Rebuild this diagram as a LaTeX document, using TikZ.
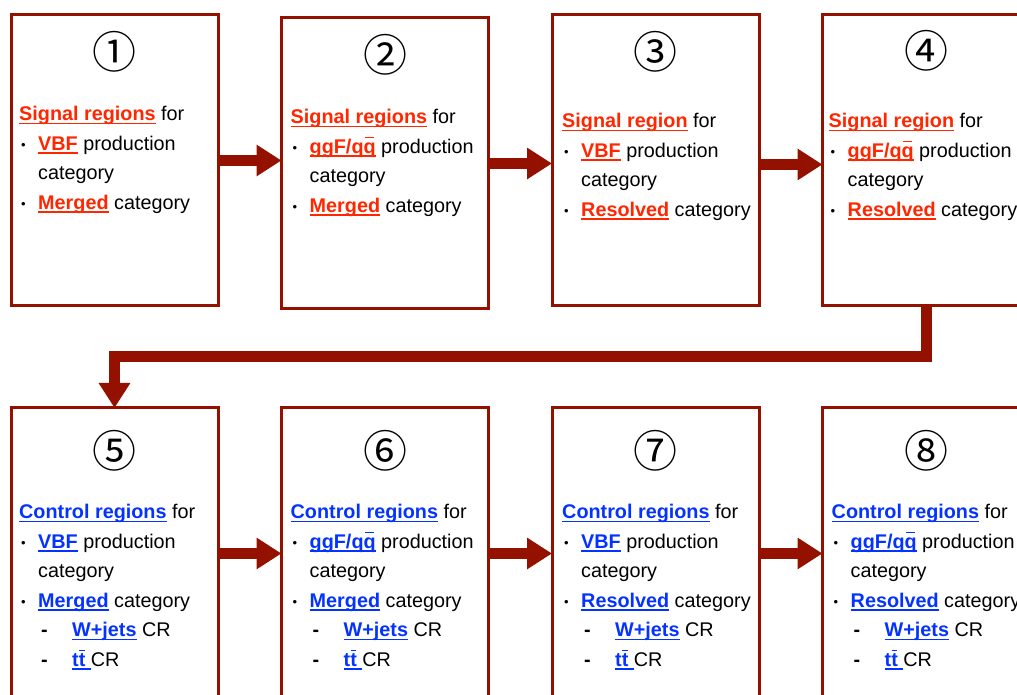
\documentclass[tikz,border=0pt]{standalone}
\usepackage{fontspec}
\setmainfont{Liberation Sans}
\newfontfamily\cjk{Noto Sans CJK SC}
\usepackage{xcolor}
\usetikzlibrary{arrows.meta,positioning}

\definecolor{boxred}{RGB}{148,17,0}
\definecolor{sigred}{RGB}{255,38,0}
\definecolor{ctlblue}{RGB}{4,51,255}

\newcommand\ulin[1]{\setbox0\hbox{#1}\rlap{\rule[-3.6pt]{\wd0}{1.5pt}}\box0}
\newcommand\ovbar[1]{\setbox0\hbox{#1}\rlap{\hbox to\wd0{\hss\rule[0.74em]{0.8\wd0}{1.5pt}\hss}}\box0}
\newcommand\sig[1]{{\color{sigred}\bfseries\ulin{#1}}}
\newcommand\ctl[1]{{\color{ctlblue}\bfseries\ulin{#1}}}
\newcommand\bul{\makebox[19pt][l]{\hspace{2pt}\raisebox{1pt}{\fontsize{13}{13}\selectfont•}}}
\newcommand\ind{\hspace*{19pt}}
\newcommand\dsh{\hspace*{22pt}\makebox[31pt][l]{\textbf{-}}}

\begin{document}
\begin{tikzpicture}[x=1pt, y=1pt,
  node distance=102pt and 63.5pt,
  stage/.style={rectangle, draw=boxred, line width=3pt, minimum width=207pt,
                minimum height=291pt, inner sep=0pt, outer sep=0pt},
  num/.style={inner sep=0pt, font=\cjk\fontsize{44}{44}\selectfont},
  txt/.style={align=left, inner sep=0pt, anchor=north west, font=\fontsize{19.8}{29.5}\selectfont},
  bigarr/.style={-{Triangle[length=25pt, width=30pt]}, draw=boxred, line width=11pt}
]
\useasboundingbox (0,0) rectangle (1017,695);
% signal regions
\node[stage] (b1) at (114.5,534.5) {};
\node[stage, right=of b1, yshift=-3pt] (b2) {};
\node[stage, right=of b2, yshift=3pt] (b3) {};
\node[stage, right=of b3] (b4) {};
% control regions
\node[stage, below=of b1] (b5) {};
\node[stage, right=of b5] (b6) {};
\node[stage, right=of b6] (b7) {};
\node[stage, right=of b7] (b8) {};

\node[num] (n1) at ([yshift=-37pt]b1.north) {①};
\node[num] (n2) at ([yshift=-37pt]b2.north) {②};
\node[num] (n3) at ([yshift=-37pt]b3.north) {③};
\node[num] (n4) at ([yshift=-36pt]b4.north) {④};
\node[num] (n5) at ([yshift=-43pt]b5.north) {⑤};
\node[num] (n6) at ([yshift=-43pt]b6.north) {⑥};
\node[num] (n7) at ([yshift=-43pt]b7.north) {⑦};
\node[num] (n8) at ([yshift=-43pt]b8.north) {⑧};

\node[txt, below right=91pt and 8pt of b1.north west] (t1) {\sig{Signal regions} for\\
  \bul\sig{VBF} production\\ \ind category\\ \bul\sig{Merged} category};
\node[txt, below right=91pt and 9pt of b2.north west] (t2) {\sig{Signal regions} for\\
  \bul\sig{ggF/q\ovbar{q}} production\\ \ind category\\ \bul\sig{Merged} category};
\node[txt, below right=98pt and 10pt of b3.north west] (t3) {\sig{Signal region} for\\
  \bul\sig{VBF} production\\ \ind category\\ \bul\sig{Resolved} category};
\node[txt, below right=98pt and 6pt of b4.north west] (t4) {\sig{Signal region} for\\
  \bul\sig{ggF/q\ovbar{q}} production\\ \ind category\\ \bul\sig{Resolved} category};

\node[txt, below right=96pt and 8pt of b5.north west] (t5) {\ctl{Control regions} for\\
  \bul\ctl{VBF} production\\ \ind category\\ \bul\ctl{Merged} category\\
  \dsh\ctl{W+jets} CR\\ \dsh\ctl{t\ovbar{t}\ }CR};
\node[txt, below right=96pt and 9pt of b6.north west] (t6) {\ctl{Control regions} for\\
  \bul\ctl{ggF/q\ovbar{q}} production\\ \ind category\\ \bul\ctl{Merged} category\\
  \dsh\ctl{W+jets} CR\\ \dsh\ctl{t\ovbar{t}\ }CR};
\node[txt, below right=96pt and 10pt of b7.north west] (t7) {\ctl{Control regions} for\\
  \bul\ctl{VBF} production\\ \ind category\\ \bul\ctl{Resolved} category\\
  \dsh\ctl{W+jets} CR\\ \dsh\ctl{t\ovbar{t}\ }CR};
\node[txt, below right=96pt and 9pt of b8.north west] (t8) {\ctl{Control regions} for\\
  \bul\ctl{ggF/q\ovbar{q}} production\\ \ind category\\ \bul\ctl{Resolved} category\\
  \dsh\ctl{W+jets} CR\\ \dsh\ctl{t\ovbar{t}\ }CR};

\draw[bigarr] (b1.east) -- (b1.east -| b2.west);
\draw[bigarr] (b2.east) -- (b2.east -| b3.west);
\draw[bigarr] ([yshift=-4pt]b3.east) -- ([yshift=-4pt]b3.east -| b4.west);
\draw[bigarr] (b4.south) -- ++(0,-51) -| (b5.north);
\draw[bigarr] (b5.east) -- (b5.east -| b6.west);
\draw[bigarr] (b6.east) -- (b6.east -| b7.west);
\draw[bigarr] (b7.east) -- (b7.east -| b8.west);
\end{tikzpicture}
\end{document}
